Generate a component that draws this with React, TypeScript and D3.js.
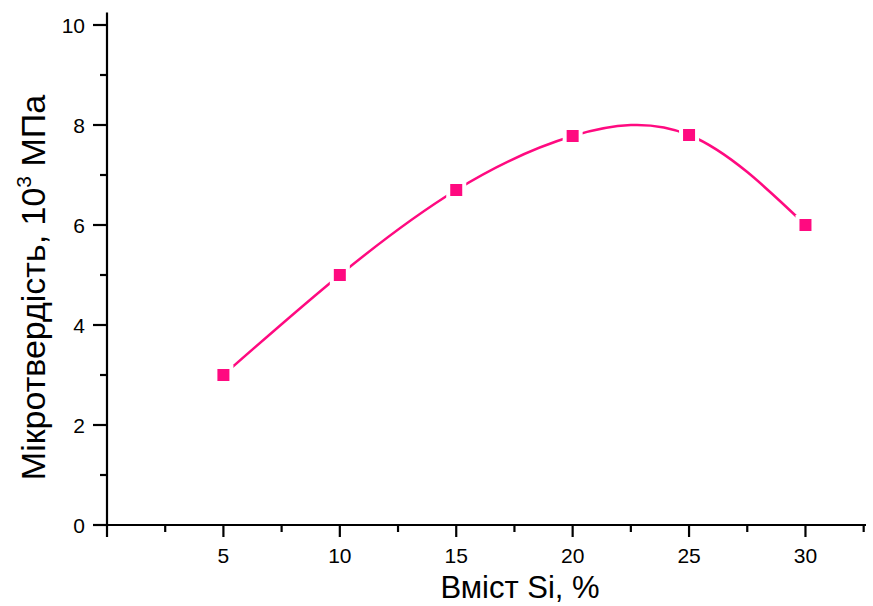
import React from "react";
import * as d3 from "d3";

const siContent = [5, 10, 15, 20, 25, 30];
const hardness = [3, 5, 6.7, 7.78, 7.8, 6];
const xMajorTicks = [0, 5, 10, 15, 20, 25, 30];
const xMinorTicks = [2.5, 7.5, 12.5, 17.5, 22.5, 27.5, 32.5];
const yMajorTicks = [0, 2, 4, 6, 8, 10];
const yMinorTicks = [1, 3, 5, 7, 9];
const xTickLabels = ["", "5", "10", "15", "20", "25", "30"];
const yTickLabels = ["0", "2", "4", "6", "8", "10"];

const W = 873;
const H = 606;
const COLOR = "#FF0A80";
const FONT = "'Liberation Sans', Arial, sans-serif";

export default function App() {
  const x = d3.scaleLinear().domain([0, 32.6]).range([107, 866]);
  const y = d3.scaleLinear().domain([0, 10.25]).range([525, 12.5]);
  const data = siContent.map((v, i) => [v, hardness[i]] as [number, number]);
  const line = d3
    .line<[number, number]>()
    .x((d) => x(d[0]))
    .y((d) => y(d[1]))
    .curve(d3.curveNatural);
  const ms = 12;
  return (
    <svg
      width={W}
      height={H}
      style={{ position: "absolute", left: 0, top: 0, background: "#fff" }}
      fontFamily={FONT}
    >
      <path d={line(data) || ""} fill="none" stroke={COLOR} strokeWidth={2.5} />
      {data.map((d, i) => (
        <rect
          key={"h" + i}
          x={x(d[0]) - ms / 2 - 4}
          y={y(d[1]) - ms / 2 - 4}
          width={ms + 8}
          height={ms + 8}
          fill="#fff"
        />
      ))}
      {data.map((d, i) => (
        <rect
          key={"m" + i}
          x={x(d[0]) - ms / 2}
          y={y(d[1]) - ms / 2}
          width={ms}
          height={ms}
          fill={COLOR}
        />
      ))}
      <line x1={107} x2={107} y1={y.range()[1]} y2={526} stroke="#000" strokeWidth={2.2} />
      <line x1={106} x2={x.range()[1]} y1={525} y2={525} stroke="#000" strokeWidth={2.2} />
      {xMajorTicks.map((t, i) => (
        <g key={"xt" + t}>
          <line x1={x(t)} x2={x(t)} y1={525} y2={537} stroke="#000" strokeWidth={2.2} />
          <text x={x(t)} y={563} textAnchor="middle" fontSize={21}>
            {xTickLabels[i]}
          </text>
        </g>
      ))}
      {xMinorTicks.map((t) => (
        <line key={"xm" + t} x1={x(t)} x2={x(t)} y1={525} y2={532} stroke="#000" strokeWidth={2.2} />
      ))}
      {yMajorTicks.map((t, i) => (
        <g key={"yt" + t}>
          <line x1={93} x2={107} y1={y(t)} y2={y(t)} stroke="#000" strokeWidth={2.2} />
          <text x={85} y={y(t) + 7.5} textAnchor="end" fontSize={21}>
            {yTickLabels[i]}
          </text>
        </g>
      ))}
      {yMinorTicks.map((t) => (
        <line key={"ym" + t} x1={100} x2={107} y1={y(t)} y2={y(t)} stroke="#000" strokeWidth={2.2} />
      ))}
      <text x={520} y={598} textAnchor="middle" fontSize={31}>
        Вміст Si, %
      </text>
      <text
        transform={`translate(45, ${(97 + 478) / 2}) rotate(-90)`}
        textAnchor="middle"
        fontSize={34}
      >
        Мікротвердість, 10
        <tspan fontSize={21} dy={-14}>3</tspan>
        <tspan dy={14}> МПа</tspan>
      </text>
    </svg>
  );
}
